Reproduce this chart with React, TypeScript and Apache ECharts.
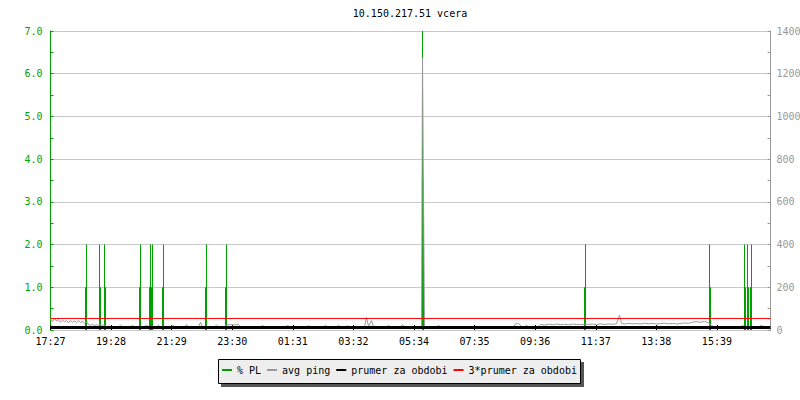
import React, { useEffect, useRef } from 'react';
import * as echarts from 'echarts';

const FONT = '"DejaVu Sans Mono", monospace';
const GREEN = '#00a000';
const GRAY = '#999999';

const titleText = '10.150.217.51 vcera';

// x axis: minutes since 17:27, a 24 h window
const spanMinutes = 1440;
const labelStepMinutes = 727 / 6;
const xLabels = ['17:27', '19:28', '21:29', '23:30', '01:31', '03:32', '05:34', '07:35', '09:36', '11:37', '13:38', '15:39'];

// % packet loss (left axis)
const plMinutes = [70, 72, 98, 100, 108, 110, 178, 180, 198, 200, 202, 204, 224, 226, 310, 312, 350, 352, 744, 746, 1068, 1070, 1318, 1320, 1388, 1390, 1394, 1396, 1400, 1402];
const plValues = [1, 2, 2, 1, 2, 1, 1, 2, 1, 2, 1, 2, 1, 2, 1, 2, 1, 2, 7, 3.5, 1, 2, 2, 1, 2, 1, 2, 1, 1, 2];

// avg ping in ms (right axis)
const pingMinutes = [
  0, 4, 8, 12, 16, 20, 24, 28, 32, 36, 40, 44, 48, 52, 56, 60, 64, 68, 72, 76, 80, 84, 88, 92, 96, 100, 104, 108, 112,
  136, 140, 144, 160, 164, 168, 188, 192, 196, 212, 216, 220, 240, 244, 248, 268, 272, 276, 296, 300, 304, 328, 332, 336,
  348, 352, 360, 368, 376, 380,
  420, 424, 428, 470, 474, 478, 512, 516, 520, 546, 550, 554, 572, 576, 580, 590, 594, 598,
  628, 632, 636, 642, 646, 672, 676, 680, 700, 704, 708,
  742, 744, 746, 748, 772, 776, 780,
  926, 930, 934, 938, 942, 948, 952, 956,
  976, 980, 988, 996, 1004, 1012, 1020, 1028, 1036, 1044, 1052, 1060, 1068, 1076, 1084, 1092, 1100, 1108, 1116, 1124, 1132,
  1138, 1142, 1148, 1156, 1164, 1172, 1180, 1188, 1196, 1204, 1212, 1220, 1228, 1236, 1244, 1252, 1260, 1268, 1276,
  1284, 1292, 1300, 1308, 1316, 1322, 1326,
  1380, 1384, 1388, 1416, 1422, 1428, 1440,
];
const pingValues = [
  52, 40, 55, 42, 48, 36, 46, 38, 44, 33, 45, 36, 42, 34, 44, 35, 40, 32, 38, 26, 22, 27, 21, 25, 22, 26, 21, 24, 14,
  14, 23, 14, 14, 22, 14, 14, 24, 14, 14, 23, 14, 14, 22, 14, 14, 25, 14, 14, 36, 14, 14, 23, 14,
  14, 24, 25, 24, 25, 14,
  14, 22, 14, 14, 22, 14, 14, 21, 14, 14, 22, 14, 14, 22, 14, 14, 21, 14,
  14, 59, 18, 44, 14, 14, 22, 14, 14, 26, 14,
  14, 1273, 641, 14, 14, 22, 14,
  14, 28, 31, 27, 14, 14, 23, 14,
  14, 26, 23, 27, 24, 28, 25, 27, 24, 28, 26, 25, 27, 26, 28, 25, 29, 26, 28, 27, 29,
  70, 30, 28, 31, 29, 30, 28, 32, 29, 31, 28, 30, 32, 29, 31, 28, 30, 33, 31,
  37, 39, 36, 40, 33, 22, 14,
  14, 22, 14, 14, 22, 14, 14,
];

const meanPing = 12;
const tripleMeanPing = 54;

const leftTicks = { min: 0, max: 7, step: 1 };
const rightTicks = { min: 0, max: 1400, step: 200 };

const legendNames = ['% PL', 'avg ping', 'prumer za obdobi', '3*prumer za obdobi'];

function buildOption() {
  const plData = plMinutes.map((m, i) => [m, plValues[i]]);
  const pingData = pingMinutes.map((m, i) => [m, pingValues[i]]);
  const xTickValues = xLabels.map((_, i) => i * labelStepMinutes);
  return {
    animation: false,
    backgroundColor: '#ffffff',
    textStyle: { fontFamily: FONT },
    title: {
      text: titleText,
      left: 410,
      top: 8,
      textAlign: 'center',
      padding: 0,
      textStyle: { fontFamily: FONT, fontSize: 10, fontWeight: 'normal', color: '#000' },
    },
    graphic: [
      { type: 'rect', z: 0, silent: true, shape: { x: 221, y: 362, width: 363, height: 25 }, style: { fill: '#555555' } },
      { type: 'rect', z: 1, silent: true, shape: { x: 218.5, y: 359.5, width: 362, height: 24 }, style: { fill: '#eeeeee', stroke: '#000', lineWidth: 1 } },
    ],
    legend: {
      z: 10,
      left: 222,
      top: 365,
      padding: 0,
      itemWidth: 10,
      itemHeight: 2,
      itemGap: 6,
      icon: 'rect',
      selectedMode: false,
      data: legendNames,
      textStyle: { fontFamily: FONT, fontSize: 10, color: '#000' },
    },
    grid: { left: 50.5, right: 29.5, top: 31, bottom: 70, containLabel: false, outerBoundsMode: 'none' },
    xAxis: {
      type: 'value',
      min: 0,
      max: spanMinutes,
      axisLine: { show: false },
      axisTick: { show: true, inside: true, length: 5, lineStyle: { color: '#000' }, customValues: xTickValues },
      splitLine: { show: false },
      axisLabel: {
        margin: 6,
        fontFamily: FONT,
        fontSize: 10,
        color: '#000',
        customValues: xTickValues,
        formatter: (v: number) => {
          const idx = Math.round(v / labelStepMinutes);
          if (Math.abs(idx * labelStepMinutes - v) > 0.5) return '';
          return xLabels[idx] ?? '';
        },
      },
    },
    yAxis: [
      {
        type: 'value',
        position: 'left',
        min: leftTicks.min,
        max: leftTicks.max,
        interval: leftTicks.step,
        axisLine: { show: true, lineStyle: { color: GREEN } },
        axisTick: { show: true, inside: true, length: 3, lineStyle: { color: GREEN } },
        minorTick: { show: true, splitNumber: 2, length: 3, lineStyle: { color: GREEN } },
        splitLine: { show: true, lineStyle: { color: '#c8c8c8', width: 1 } },
        axisLabel: { margin: 8, fontFamily: FONT, fontSize: 10, color: GREEN, formatter: (v: number) => v.toFixed(1) },
      },
      {
        type: 'value',
        position: 'right',
        min: rightTicks.min,
        max: rightTicks.max,
        interval: rightTicks.step,
        axisLine: { show: true, lineStyle: { color: GRAY } },
        axisTick: { show: true, inside: true, length: 3, lineStyle: { color: GRAY } },
        minorTick: { show: true, splitNumber: 2, length: 3, lineStyle: { color: GRAY } },
        splitLine: { show: false },
        axisLabel: { margin: 6, fontFamily: FONT, fontSize: 10, color: '#999999', formatter: (v: number) => String(v) },
      },
    ],
    series: [
      {
        name: '% PL',
        type: 'custom',
        yAxisIndex: 0,
        data: plData,
        encode: { x: 0, y: 1 },
        color: GREEN,
        itemStyle: { color: GREEN },
        silent: true,
        renderItem: (params: any, api: any) => {
          const top = api.coord([api.value(0), api.value(1)]);
          const base = api.coord([api.value(0), 0]);
          return {
            type: 'rect',
            shape: { x: top[0] - 0.5, y: top[1], width: 1, height: base[1] - top[1] },
            style: { fill: GREEN },
          };
        },
      },
      {
        name: 'avg ping',
        type: 'line',
        yAxisIndex: 1,
        data: pingData,
        symbol: 'none',
        showSymbol: false,
        color: GRAY,
        itemStyle: { color: GRAY },
        lineStyle: { color: GRAY, width: 1 },
        silent: true,
      },
      {
        name: 'prumer za obdobi',
        type: 'line',
        yAxisIndex: 1,
        data: [[0, meanPing], [spanMinutes, meanPing]],
        symbol: 'none',
        showSymbol: false,
        color: '#000',
        itemStyle: { color: '#000' },
        lineStyle: { color: '#000', width: 3 },
        silent: true,
      },
      {
        name: '3*prumer za obdobi',
        type: 'line',
        yAxisIndex: 1,
        data: [[0, tripleMeanPing], [spanMinutes, tripleMeanPing]],
        symbol: 'none',
        showSymbol: false,
        color: '#ff0000',
        itemStyle: { color: '#ff0000' },
        lineStyle: { color: '#ff0000', width: 1 },
        silent: true,
      },
    ],
  };
}

export default function App() {
  const ref = useRef<HTMLDivElement>(null);
  useEffect(() => {
    if (!ref.current) return;
    const chart = echarts.init(ref.current, null, { renderer: 'svg' });
    chart.setOption(buildOption() as any);
    return () => chart.dispose();
  }, []);
  return (
    <div
      ref={ref}
      style={{ position: 'fixed', left: 0, top: 0, width: 800, height: 400, background: '#fff' }}
    />
  );
}
